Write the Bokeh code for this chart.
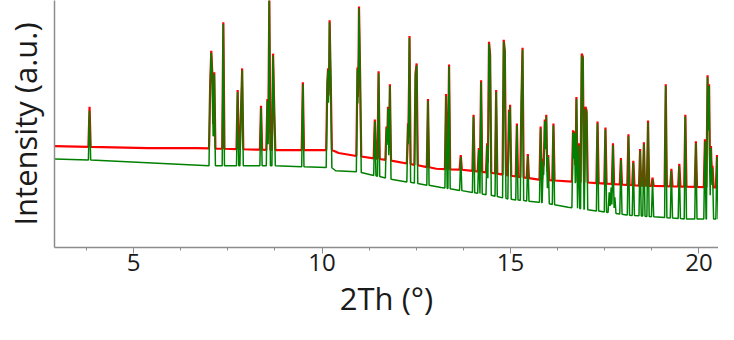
import numpy as np
from bokeh.plotting import figure
from bokeh.models import Range1d, FixedTicker
from bokeh.embed import file_html
from bokeh.resources import INLINE

# ---- data ----
x_ticks = [5, 10, 15, 20]
x_minor_ticks = [3.75, 6.25, 7.5, 8.75, 11.25, 12.5, 13.75, 16.25, 17.5, 18.75]

# background knots (2Th, intensity a.u.)
green_base_x = [2.90, 3.83, 7.02, 8.76, 10.26, 10.36, 10.91, 11.87, 13.16, 14.46, 14.97, 15.75, 16.53, 18.08, 19.64, 20.52]
green_base_y = [90, 89, 83, 83, 81, 78, 77, 69, 61, 53, 49, 46, 41, 33, 29, 29]
red_base_x = [2.90, 5.39, 6.68, 8.76, 10.26, 10.44, 10.91, 11.87, 13.03, 13.68, 14.46, 14.97, 15.75, 17.05, 18.34, 20.52]
red_base_y = [103, 101, 101, 99, 99, 96, 93, 88, 80, 79, 76, 73, 69, 66, 63, 61]

# reflections (2Th) with apex intensities
peak_x = [3.83, 7.03, 7.06, 7.09, 7.14, 7.38, 7.76, 7.85, 7.88, 8.38, 8.55, 8.60, 8.70, 8.73, 9.49,
          10.14, 10.16, 10.20, 10.23, 10.94, 10.98, 11.01, 11.40, 11.50, 11.71, 11.75, 11.80, 12.28, 12.32,
          12.48, 12.51, 12.81, 13.29, 13.37, 13.68, 14.02, 14.16, 14.22, 14.38, 14.43, 14.46, 14.62, 14.82,
          14.85, 14.96, 14.99, 15.17, 15.29, 15.32, 15.46, 15.80, 15.87, 15.91, 15.95, 16.00, 16.14, 16.66,
          16.70, 16.75, 16.81, 16.89, 16.92, 16.99, 17.02, 17.31, 17.52, 17.72, 17.93, 18.13, 18.26, 18.44,
          18.54, 18.65, 18.77, 19.12, 19.27, 19.48, 19.64, 19.92, 20.16, 20.23, 20.27, 20.32, 20.36, 20.48]
green_peak_y = [139, 162, 198, 173, 176, 227, 158, 138, 180, 142, 149, 251, 195, 141, 166,
                166, 180, 229, 168, 181, 243, 173, 128, 177, 121, 141, 164, 124, 213,
                175, 185, 149, 154, 184, 92, 133, 99, 168, 104, 207, 194, 158, 209,
                198, 138, 143, 124, 146, 201, 93, 121, 88, 128, 133, 92, 124, 117,
                116, 151, 104, 195, 192, 141, 137, 126, 120, 104, 89, 113, 86, 98,
                105, 127, 69, 164, 78, 83, 133, 106, 108, 173, 164, 101, 81, 92]
red_peak_y = [143, 164, 200, 175, 178, 229, 160, 140, 182, 144, 151, 253, 197, 143, 168,
              168, 182, 231, 170, 183, 245, 175, 130, 179, 123, 143, 166, 126, 215,
              177, 187, 151, 156, 186, 94, 135, 101, 170, 106, 209, 196, 160, 211,
              200, 140, 145, 126, 148, 203, 95, 123, 90, 130, 135, 94, 126, 119,
              118, 153, 106, 197, 194, 143, 139, 128, 122, 106, 91, 115, 88, 100,
              107, 129, 71, 166, 80, 85, 135, 108, 110, 175, 166, 103, 83, 94]
green_small_x = [17.62, 17.67, 17.77]
green_small_y = [56, 61, 51]

HALF_WIDTH = 0.03


def trace(base_x, base_y, px, py, hw):
    xs = np.array(sorted(set(list(base_x) + [p - hw for p in px] + list(px) + [p + hw for p in px])))
    ys = np.interp(xs, base_x, base_y)
    for p, top in zip(px, py):
        b = np.interp(p, base_x, base_y)
        tri = top - (top - b) * np.abs(xs - p) / hw
        ys = np.maximum(ys, tri)
    return xs, ys


rx, ry = trace(red_base_x, red_base_y, peak_x, red_peak_y, HALF_WIDTH)
gx, gy = trace(green_base_x, green_base_y, peak_x + green_small_x, green_peak_y + green_small_y, HALF_WIDTH)

FONT = "Open Sans"

p = figure(width=718, height=324, output_backend="svg", toolbar_location=None,
           x_range=Range1d(2.90, 20.52), y_range=Range1d(0, 251),
           min_border_left=54, min_border_right=0, min_border_top=0, min_border_bottom=77)
p.outline_line_color = None
p.xgrid.visible = False
p.ygrid.visible = False
p.background_fill_color = "white"
p.border_fill_color = "white"

p.line(rx, ry, color="#ff0000", line_width=2.2)
p.line(gx, gy, color="#008000", line_width=1.5)

xa = p.xaxis[0]
xa.ticker = FixedTicker(ticks=x_ticks, minor_ticks=x_minor_ticks)
xa.axis_line_color = "#8c8c8c"
xa.axis_line_width = 1.5
xa.major_tick_line_color = "#8c8c8c"
xa.minor_tick_line_color = "#8c8c8c"
xa.major_tick_out = 6
xa.major_tick_in = 0
xa.minor_tick_out = 3
xa.minor_tick_in = 0
xa.major_label_text_font = FONT
xa.major_label_text_font_size = "24px"
xa.major_label_text_color = "#1a1a1a"
xa.major_label_standoff = 0
xa.axis_label = "2Th (°)"
xa.axis_label_text_font = FONT
xa.axis_label_text_font_size = "31px"
xa.axis_label_text_font_style = "normal"
xa.axis_label_text_color = "#1a1a1a"
xa.axis_label_standoff = 3

ya = p.yaxis[0]
ya.ticker = FixedTicker(ticks=[])
ya.axis_line_color = "#8c8c8c"
ya.axis_line_width = 1.5
ya.major_tick_line_color = None
ya.minor_tick_line_color = None
ya.major_tick_out = 0
ya.major_tick_in = 0
ya.minor_tick_out = 0
ya.minor_tick_in = 0
ya.major_label_standoff = 0
ya.major_label_text_font_size = "0px"
ya.axis_label = "Intensity (a.u.)"
ya.axis_label_text_font = FONT
ya.axis_label_text_font_size = "31px"
ya.axis_label_text_font_style = "normal"
ya.axis_label_text_color = "#1a1a1a"
ya.axis_label_standoff = 9

open("out.html", "w").write(file_html(p, INLINE))
